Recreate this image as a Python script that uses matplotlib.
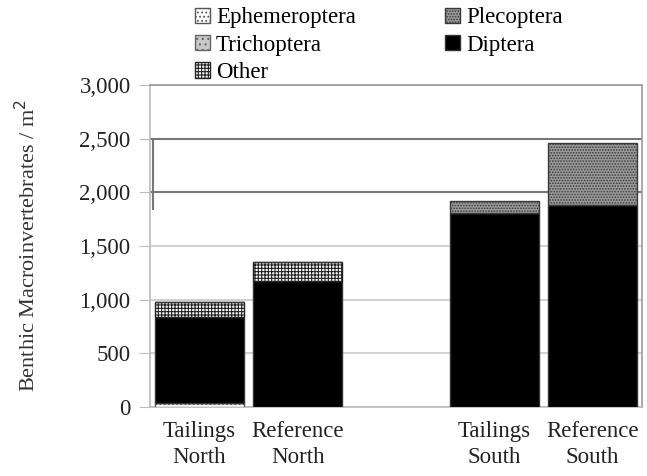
import numpy as np
import matplotlib.pyplot as plt
from matplotlib.patches import Patch

plt.rcParams['font.family'] = ['Liberation Serif', 'DejaVu Serif']
plt.rcParams['hatch.linewidth'] = 0.8

# Datos (individuos / m2)
sites = ["Tailings\nNorth", "Reference\nNorth", "Tailings\nSouth", "Reference\nSouth"]
positions = [0, 1, 3, 4]
ephemeroptera = [40, 0, 0, 0]
plecoptera = [0, 0, 112, 574]
trichoptera = [0, 0, 0, 0]
diptera = [800, 1177, 1811, 1883]
other = [138, 177, 0, 0]

fig = plt.figure(figsize=(6.47, 4.76), dpi=100)
ax = fig.add_axes([0.232, 0.145, 0.76, 0.676])

styles = {
    "Ephemeroptera": dict(facecolor="white", hatch="....", edgecolor="#555555"),
    "Plecoptera": dict(facecolor="#9a9a9a", hatch="......", edgecolor="#3a3a3a"),
    "Trichoptera": dict(facecolor="#c8c8c8", hatch="...", edgecolor="#666666"),
    "Diptera": dict(facecolor="black", hatch=None, edgecolor="#333333"),
    "Other": dict(facecolor="white", hatch="+++++", edgecolor="#222222"),
}
series = [("Ephemeroptera", ephemeroptera), ("Trichoptera", trichoptera),
          ("Diptera", diptera), ("Other", other), ("Plecoptera", plecoptera)]

bottom = np.zeros(len(positions))
for name, vals in series:
    vals = np.array(vals, dtype=float)
    ax.bar(positions, vals, width=0.9, bottom=bottom, linewidth=1.0,
           zorder=3, **styles[name])
    bottom += vals

ax.set_xlim(-0.5, 4.5)
ax.set_ylim(0, 3000)
ax.set_yticks(np.arange(0, 3001, 500))
ax.set_yticklabels([f"{v:,}" for v in range(0, 3001, 500)])
ax.set_xticks(positions)
ax.set_xticklabels(sites, linespacing=1.3)
ax.tick_params(axis='both', labelsize=16.5, colors="#222222")
ax.tick_params(axis='y', length=8, color="#bbbbbb", pad=6)
ax.tick_params(axis='x', length=0, pad=10)
ax.grid(axis='y', color="#c8c8c8", linewidth=1.2, zorder=0)
for s in ax.spines.values():
    s.set_color("#bbbbbb")
    s.set_linewidth(1.2)
ax.spines['top'].set_color("#999999")
ax.spines['right'].set_color("#999999")

# recuadro superpuesto entre 2,000 y 2,500
ax.axhline(2000, color="#777777", linewidth=1.5, zorder=2)
ax.axhline(2500, color="#777777", linewidth=1.5, zorder=2)
ax.plot([0.006, 0.006], [1850, 2500], color="#777777", linewidth=1.5,
        transform=ax.get_yaxis_transform(), clip_on=False, zorder=4)

ax.set_ylabel("Benthic Macroinvertebrates / m$^2$", fontsize=16, color="#333333", labelpad=28)

order = ["Ephemeroptera", "Trichoptera", "Other", "Plecoptera", "Diptera"]
handles = [Patch(label=n, linewidth=1.0, **styles[n]) for n in order]
fig.legend(handles=handles, ncol=2, loc="upper left", bbox_to_anchor=(0.27, 1.028),
           frameon=False, fontsize=16.5, handlelength=0.65, handleheight=0.65,
           handletextpad=0.25, labelspacing=0.28, columnspacing=3.9)

plt.savefig("out.png", dpi=100)
